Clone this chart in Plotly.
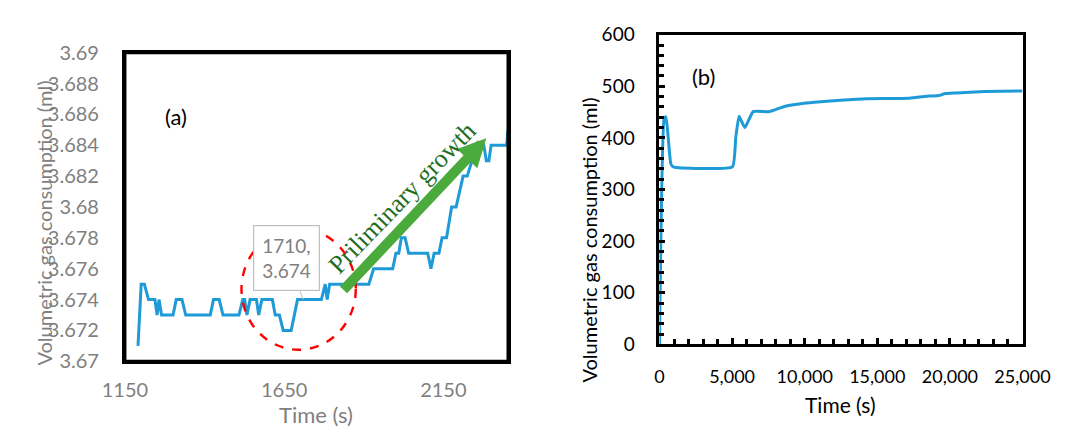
import plotly.graph_objects as go

W, H = 1081, 428

# ---- Panel (a): gas uptake during the induction stage ----
time_a = [1191, 1201, 1211, 1224, 1244, 1251, 1257, 1265, 1301, 1311, 1329, 1341,
          1418, 1428, 1446, 1458, 1508, 1520, 1526, 1533, 1543, 1563, 1570, 1580,
          1613, 1622, 1635, 1647, 1672, 1692, 1710, 1767, 1779, 1785, 1793, 1916,
          1931, 1991, 2001, 2010, 2018, 2030, 2041, 2101, 2111, 2121, 2136, 2146,
          2160, 2176, 2190, 2200, 2212, 2225, 2240, 2262, 2277, 2285, 2293, 2300,
          2349, 2353]
gas_a = [3.671, 3.675, 3.675, 3.674, 3.674, 3.673, 3.674, 3.673, 3.673, 3.674, 3.674, 3.673,
         3.673, 3.674, 3.674, 3.673, 3.673, 3.674, 3.674, 3.673, 3.674, 3.674, 3.673, 3.674,
         3.674, 3.673, 3.673, 3.672, 3.672, 3.674, 3.674, 3.674, 3.675, 3.674, 3.675, 3.675,
         3.676, 3.676, 3.677, 3.677, 3.678, 3.678, 3.677, 3.677, 3.676, 3.677, 3.677, 3.678,
         3.678, 3.680, 3.680, 3.681, 3.682, 3.682, 3.683, 3.684, 3.684, 3.683, 3.683, 3.684,
         3.684, 3.685]
ytick_a = [3.67, 3.672, 3.674, 3.676, 3.678, 3.68, 3.682, 3.684, 3.686, 3.688, 3.69]
ylabel_a = ["3.67", "3.672", "3.674", "3.676", "3.678", "3.68", "3.682", "3.684",
            "3.686", "3.688", "3.69"]
xtick_a = [1150, 1650, 2150]
callout_point = (1710, 3.674)

# ---- Panel (b): gas uptake over the whole run ----
time_b = [0, 320, 430, 540, 780, 950, 5020, 5250, 5480, 5880, 6450, 7580, 8600,
          9960, 11090, 12450, 14260, 17200, 18560, 19240, 19690, 21050, 22400, 25000]
gas_b = [0, 438, 441, 420, 350, 344, 344, 400, 442, 420, 451, 451, 461,
         467, 470, 473, 476, 477, 481, 482, 486, 488, 490, 491]
xtick_b = [0, 5000, 10000, 15000, 20000, 25000]
ytick_b = [0, 100, 200, 300, 400, 500, 600]

BLUE = "#1E9BD7"
GREY = "#7F7F7F"
FONT = "Lato"

# panel boxes in pixels: left, right, top, bottom
BOX_A = (107, 509, 42, 369)
BOX_B = (668, 1049, 23, 351)


def px(x):
    return x / W


def py(y):
    return (H - y) / H


fig = go.Figure()
fig.add_trace(go.Scatter(x=time_a, y=gas_a, mode="lines", xaxis="x", yaxis="y",
                         line=dict(color=BLUE, width=3), hoverinfo="skip"))
fig.add_trace(go.Scatter(x=time_b, y=gas_b, mode="lines", xaxis="x2", yaxis="y2",
                         line=dict(color=BLUE, width=3, shape="spline", smoothing=0.4),
                         hoverinfo="skip"))

axis_common = dict(showgrid=False, zeroline=False, showline=True, mirror=True,
                   linecolor="#000000")

fig.update_layout(
    width=W, height=H,
    margin=dict(l=0, r=0, t=0, b=0),
    paper_bgcolor="white", plot_bgcolor="white",
    showlegend=False,
    xaxis=dict(axis_common, domain=[px(BOX_A[0]), px(BOX_A[1])], anchor="y",
               range=[1150, 2353], linewidth=3,
               tickvals=xtick_a, ticks="", ticklabelstandoff=9,
               tickfont=dict(family=FONT, size=20, color=GREY)),
    yaxis=dict(axis_common, domain=[py(BOX_A[3]), py(BOX_A[2])], anchor="x",
               range=[3.67, 3.69], linewidth=3,
               tickvals=ytick_a, ticktext=ylabel_a, ticks="", ticklabelstandoff=19,
               tickfont=dict(family=FONT, size=20, color=GREY)),
    xaxis2=dict(axis_common, domain=[px(BOX_B[0]), px(BOX_B[1])], anchor="y2",
                range=[0, 25000], linewidth=3,
                tickvals=xtick_b, tickformat=",", ticks="inside", ticklen=6,
                tickwidth=2.5, tickcolor="black", ticklabelstandoff=14,
                minor=dict(ticks="inside", dtick=1000, ticklen=5, tickwidth=2.5,
                           tickcolor="black"),
                tickfont=dict(family=FONT, size=18, color="black")),
    yaxis2=dict(axis_common, domain=[py(BOX_B[3]), py(BOX_B[2])], anchor="x2",
                range=[0, 600], linewidth=3,
                tickvals=ytick_b, ticks="inside", ticklen=6,
                tickwidth=2.5, tickcolor="black", ticklabelstandoff=18,
                minor=dict(ticks="inside", dtick=20, ticklen=5, tickwidth=2.5,
                           tickcolor="black"),
                tickfont=dict(family=FONT, size=19, color="black")),
)

# frame of panel (a), drawn on the paper so it sits on top of everything
fig.add_shape(type="rect", xref="paper", yref="paper",
              x0=px(BOX_A[0]), x1=px(BOX_A[1]), y0=py(BOX_A[3]), y1=py(BOX_A[2]),
              line=dict(color="#000000", width=3), fillcolor="rgba(0,0,0,0)",
              layer="above")

# dashed ring around the onset region
fig.add_shape(type="circle", xref="x", yref="y",
              x0=1516, x1=1875, y0=3.67075, y1=3.67861,
              line=dict(color="#FF0000", width=2.4, dash="dash"))

annotations = [
    # axis titles
    dict(text="Volumetric gas consumption (ml)", x=px(22), y=py(222), textangle=-90,
         font=dict(family=FONT, size=20, color=GREY)),
    dict(text="Time (s)", x=px(308), y=py(425),
         font=dict(family=FONT, size=22, color=GREY)),
    dict(text="Volumetric gas consumption (ml)", x=px(594), y=py(240), textangle=-90,
         font=dict(family=FONT, size=20, color="black")),
    dict(text="Time (s)", x=px(858), y=py(415),
         font=dict(family=FONT, size=21, color="black")),
    # panel tags
    dict(text="(a)", x=px(161), y=py(110), font=dict(family=FONT, size=22, color="black")),
    dict(text="(b)", x=px(714), y=py(67), font=dict(family=FONT, size=22, color="black")),
]
for a in annotations:
    a.update(xref="paper", yref="paper", xanchor="center", yanchor="middle",
             showarrow=False)
    fig.add_annotation(**a)

# data callout
fig.add_annotation(x=callout_point[0], y=callout_point[1], xref="x", yref="y",
                   text=f"{callout_point[0]},<br>{callout_point[1]:.3f}",
                   showarrow=True, arrowhead=0, arrowwidth=1, arrowcolor="#BFBFBF",
                   ax=-17, ay=-42, bordercolor="#BFBFBF", borderwidth=1.2, borderpad=8,
                   bgcolor="white", font=dict(family=FONT, size=19, color=GREY))

# growth arrow and its label
fig.add_annotation(x=2285, y=3.68445, xref="x", yref="y",
                   ax=1832, ay=3.67453, axref="x", ayref="y",
                   text="", showarrow=True, arrowhead=2, arrowsize=0.56,
                   arrowwidth=10, arrowcolor="#4BAA3C", standoff=0)
fig.add_annotation(x=2022, y=3.68059, xref="x", yref="y", text="Priliminary growth",
                   showarrow=False, textangle=-46, xanchor="center", yanchor="middle",
                   font=dict(family="Liberation Serif", size=26, color="#1F6E1F"))

fig.write_html("out.html")
